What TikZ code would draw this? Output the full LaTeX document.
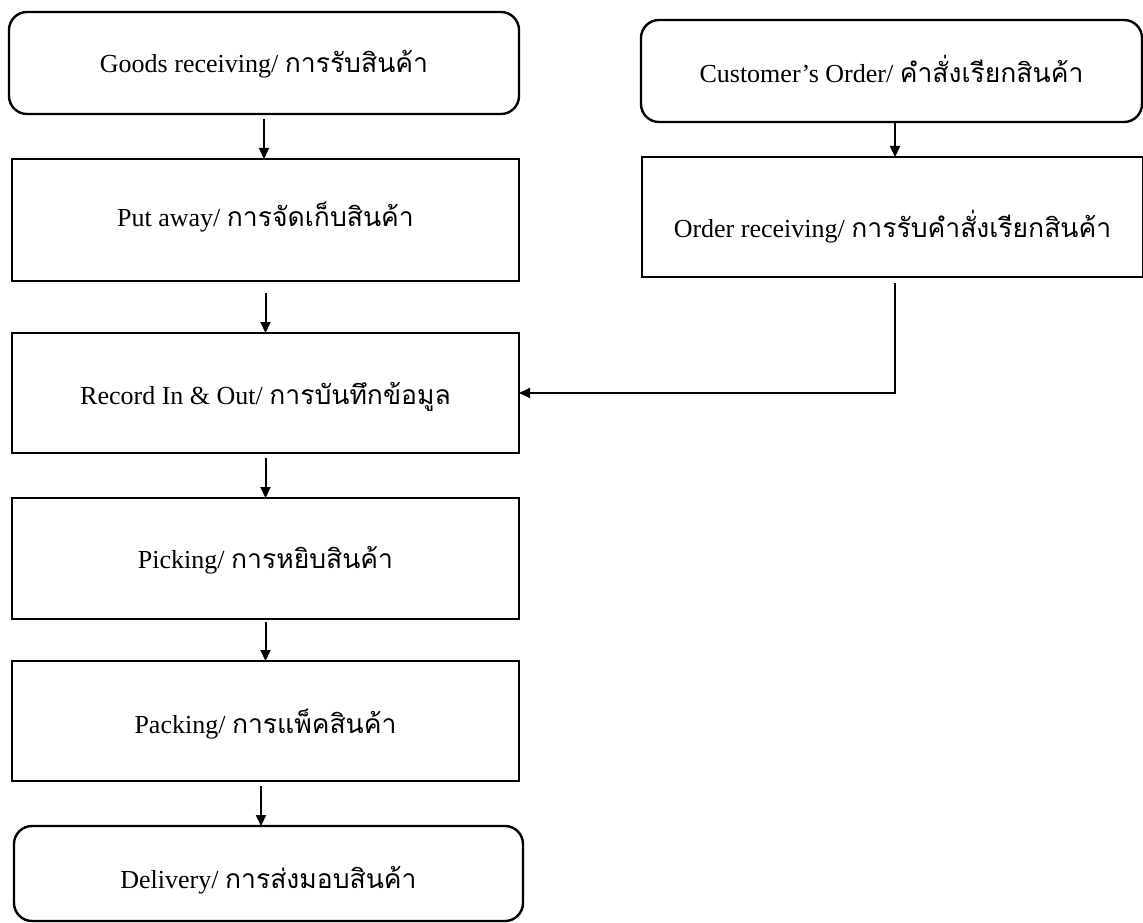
\documentclass[tikz,border=0pt]{standalone}
\usepackage{fontspec}
\setmainfont{Liberation Serif}
\newfontfamily\thaifont[Script=Thai,Scale=1.02]{Loma}
\newcommand{\thx}[1]{{\thaifont #1}}
\usetikzlibrary{arrows.meta,calc}
\begin{document}
\begin{tikzpicture}[x=1pt,y=-1pt,
  box/.style={draw, line width=2.4pt, inner sep=0pt, outer sep=0pt},
  rbox/.style={box, rounded corners=18pt},
  lbl/.style={font=\fontsize{26}{30}\selectfont, inner sep=0pt, anchor=base},
  arr/.style={draw, line width=2pt, -{Triangle[length=11pt,width=10pt]}}]
\useasboundingbox (0,0) rectangle (1143,923);
% left column
\node[rbox, minimum width=510pt, minimum height=102pt] (goods) at (264,63) {};
\node[box, minimum width=507pt, minimum height=122pt] (put) at (265.5,220) {};
\node[box, minimum width=507pt, minimum height=120pt] (record) at (265.5,393) {};
\node[box, minimum width=507pt, minimum height=121pt] (pick) at (265.5,558.5) {};
\node[box, minimum width=507pt, minimum height=120pt] (pack) at (265.5,721) {};
\node[rbox, minimum width=509pt, minimum height=95pt] (deliv) at (268.5,873.5) {};
% right column
\node[rbox, minimum width=501pt, minimum height=102pt] (cust) at (891.5,71) {};
\node[box, minimum width=501pt, minimum height=120pt] (order) at (892.5,217) {};
% labels
\node[lbl] (tgoods) at ([yshift=-10pt]goods.center) {Goods receiving/ \thx{การรับสินค้า}};
\node[lbl] (tput) at ([yshift=-6pt]put.center) {Put away/ \thx{การจัดเก็บสินค้า}};
\node[lbl] (trecord) at ([yshift=-11pt]record.center) {Record In \& Out/ \thx{การบันทึกข้อมูล}};
\node[lbl] (tpick) at ([yshift=-10pt]pick.center) {Picking/ \thx{การหยิบสินค้า}};
\node[lbl] (tpack) at ([yshift=-12pt]pack.center) {Packing/ \thx{การแพ็คสินค้า}};
\node[lbl] (tdeliv) at ([yshift=-14.5pt]deliv.center) {Delivery/ \thx{การส่งมอบสินค้า}};
\node[lbl] (tcust) at ([yshift=-12pt]cust.center) {Customer’s Order/ \thx{คำสั่งเรียกสินค้า}};
\node[lbl] (torder) at ([yshift=-20pt]order.center) {Order receiving/ \thx{การรับคำสั่งเรียกสินค้า}};
% connectors
\draw[arr] ([yshift=-5pt]goods.south) -- (goods.south |- put.north);
\draw[arr] ([yshift=-12pt]put.south) -- (put.south |- record.north);
\draw[arr] ([yshift=-5pt]record.south) -- (record.south |- pick.north);
\draw[arr] ([yshift=-3pt]pick.south) -- (pick.south |- pack.north);
\draw[arr] ([xshift=-4.5pt,yshift=-5pt]pack.south) -- ([xshift=-4.5pt]pack.south |- deliv.north);
\draw[arr] ([xshift=3.5pt]cust.south) -- ([xshift=3.5pt]cust.south |- order.north);
\draw[arr] ([xshift=2.5pt,yshift=-6pt]order.south) |- (record.east);
\end{tikzpicture}
\end{document}
